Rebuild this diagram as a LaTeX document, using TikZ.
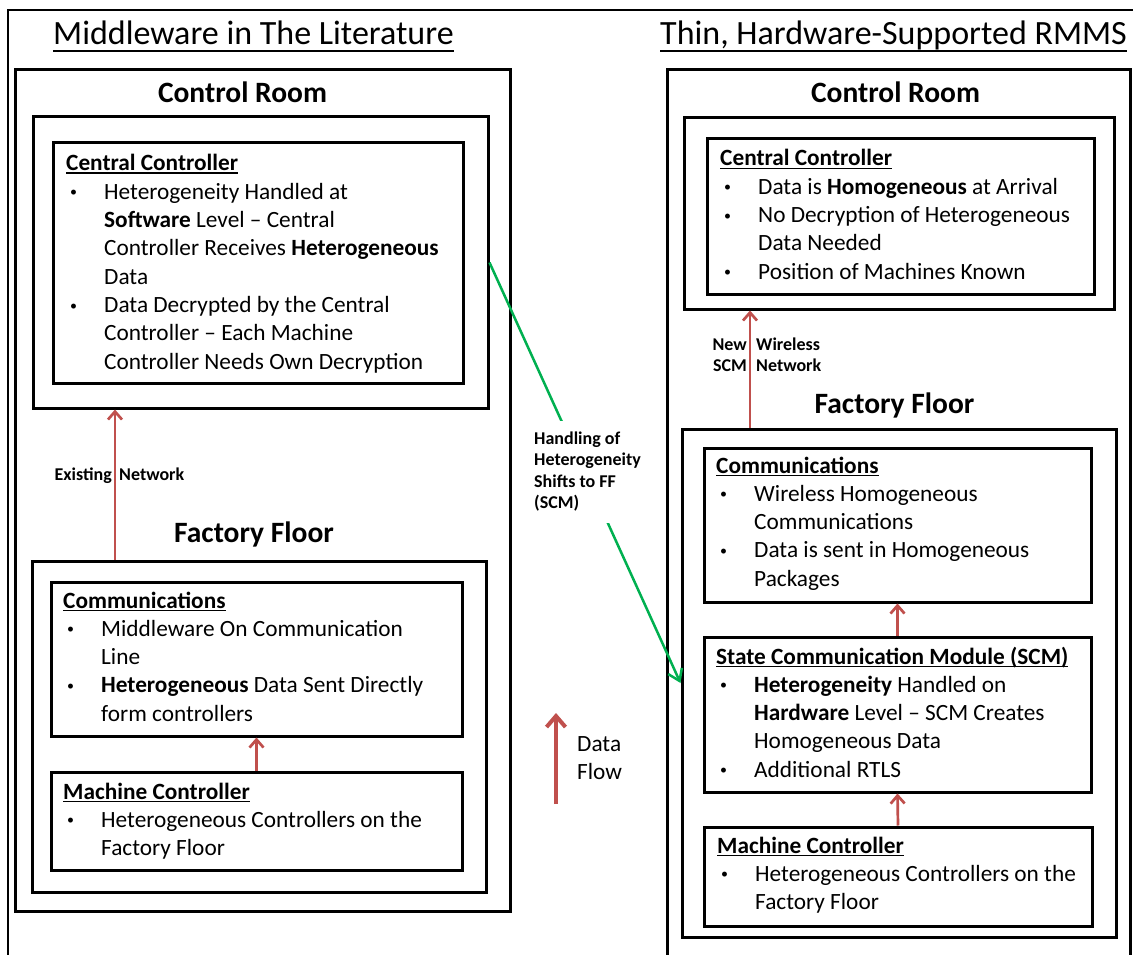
\documentclass[tikz,border=0pt]{standalone}
\usepackage{fontspec}
\setmainfont{Carlito}
\usetikzlibrary{arrows.meta, fit}
\definecolor{flowred}{RGB}{192, 80, 77}
\definecolor{shiftgreen}{RGB}{0, 176, 80}
\newlength{\bulw}\setlength{\bulw}{38pt}
\newcommand{\ulbox}[3]{\setbox0\hbox{#3}\rlap{\rule[-#1]{\wd0}{#2}}\box0}
\newcommand{\bul}{\makebox[\bulw][l]{\hspace{4pt}\raisebox{2.4pt}{\scalebox{0.6}{\textbullet}}}}
\newcommand{\cnt}{\hspace{\bulw}}
\newcommand{\bodyfont}{\fontsize{23.3}{28.3}\selectfont}

\begin{document}
\begin{tikzpicture}[x=1pt, y=-1pt,
  box/.style={draw, line width=3pt, inner sep=0pt},
  txt/.style={inner sep=0pt, anchor=base west, font=\bodyfont},
  heading/.style={inner sep=0pt, anchor=base west, font=\fontsize{34}{40}\selectfont},
  room/.style={inner sep=0pt, anchor=base, font=\fontsize{29.5}{35}\selectfont\bfseries},
  tag/.style={inner sep=0pt, font=\fontsize{18}{21.5}\selectfont\bfseries},
  flow/.style={draw=flowred, line width=2.7pt, -{Straight Barb[length=8pt, width=14pt]}},
  greenline/.style={draw=shiftgreen, line width=2.5pt, -{Straight Barb[length=11pt, width=15pt]}}]
  \useasboundingbox (0,0) rectangle (1133,955);
  \clip (0,0) rectangle (1133,955);
  \fill[white] (0,0) rectangle (1133,955);
  % Page frame
  \draw[line width=2pt] (7.5,10.5) rectangle (1140,970);
  % Titles
  \node[heading] (ltitle) at (53,45) {\ulbox{7pt}{2pt}{Middleware in The Literature}};
  \node[heading] (rtitle) at (660,45) {\ulbox{7pt}{2pt}{Thin, Hardware-Supported RMMS}};

  % Left panel - control room
  \node[box, fit={(15,70) (510,911)}] (lpanel) {};
  \node[room] (lcrname) at (242.5,103) {Control Room};
  \node[box, fit={(33,117) (488,408)}] (lcr) {};
  \node[box, fit={(53,143) (463,383)}] (lcc) {};
  \node[txt] (lcctxt) at (66,171) {\begin{tabular}[t]{@{}l@{}}
    \ulbox{3pt}{1.5pt}{\textbf{Central Controller}}\\
    \bul Heterogeneity Handled at\\
    \cnt\textbf{Software} Level – Central\\
    \cnt Controller Receives \textbf{Heterogeneous}\\
    \cnt Data\\
    \bul Data Decrypted by the Central\\
    \cnt Controller – Each Machine\\
    \cnt Controller Needs Own Decryption
  \end{tabular}};
  % Left panel - factory floor
  \node[room] (lffname) at (254,542) {Factory Floor};
  \node[box, fit={(32,561) (486,892)}] (lff) {};
  \node[box, fit={(51,582) (462,736)}] (lcom) {};
  \node[txt] (lcomtxt) at (63,608) {\begin{tabular}[t]{@{}l@{}}
    \ulbox{3pt}{1.5pt}{\textbf{Communications}}\\
    \bul Middleware On Communication\\
    \cnt Line\\
    \bul\textbf{Heterogeneous} Data Sent Directly\\
    \cnt form controllers
  \end{tabular}};
  \node[box, fit={(51,772) (462,870)}] (lmc) {};
  \node[txt] (lmctxt) at (63,799) {\begin{tabular}[t]{@{}l@{}}
    \ulbox{3pt}{1.5pt}{\textbf{Machine Controller}}\\
    \bul Heterogeneous Controllers on the\\
    \cnt Factory Floor
  \end{tabular}};
  % Left panel - data paths
  \coordinate (lnet) at (115,480);
  \draw[flow] (lff.north -| lnet) -- (lcr.south -| lnet);
  \node[tag, anchor=base east] (lnetl) at (112,480) {Existing};
  \node[tag, anchor=base west] (lnetr) at (119,480) {Network};
  \draw[flow] (lmc.north) -- (lcom.south);

  % Right panel - control room
  \node[box, fit={(667,70) (1130,990)}] (rpanel) {};
  \node[room] (rcrname) at (895.5,103) {Control Room};
  \node[box, fit={(684,118) (1114,309)}] (rcr) {};
  \node[box, fit={(707,139) (1094,294)}] (rcc) {};
  \node[txt] (rcctxt) at (720,166) {\begin{tabular}[t]{@{}l@{}}
    \ulbox{3pt}{1.5pt}{\textbf{Central Controller}}\\
    \bul Data is \textbf{Homogeneous} at Arrival\\
    \bul No Decryption of Heterogeneous\\
    \cnt Data Needed\\
    \bul Position of Machines Known
  \end{tabular}};
  % Right panel - factory floor
  \node[room] (rffname) at (894.5,413) {Factory Floor};
  \node[box, fit={(682,429) (1116,937)}] (rff) {};
  \node[box, fit={(704,448) (1091,602)}] (rcom) {};
  \node[txt] (rcomtxt) at (716,473) {\begin{tabular}[t]{@{}l@{}}
    \ulbox{3pt}{1.5pt}{\textbf{Communications}}\\
    \bul Wireless Homogeneous\\
    \cnt Communications\\
    \bul Data is sent in Homogeneous\\
    \cnt Packages
  \end{tabular}};
  \node[box, fit={(704,637) (1091,792)}] (rscm) {};
  \node[txt] (rscmtxt) at (716,664) {\begin{tabular}[t]{@{}l@{}}
    \ulbox{3pt}{1.5pt}{\textbf{State Communication Module (SCM)}}\\
    \bul\textbf{Heterogeneity} Handled on\\
    \cnt\textbf{Hardware} Level – SCM Creates\\
    \cnt Homogeneous Data\\
    \bul Additional RTLS
  \end{tabular}};
  \node[box, fit={(704,827) (1092,926)}] (rmc) {};
  \node[txt] (rmctxt) at (717,853) {\begin{tabular}[t]{@{}l@{}}
    \ulbox{3pt}{1.5pt}{\textbf{Machine Controller}}\\
    \bul Heterogeneous Controllers on the\\
    \cnt Factory Floor
  \end{tabular}};
  % Right panel - data paths
  \coordinate (rnet) at (750,350);
  \draw[flow] (rff.north -| rnet) -- (rcr.south -| rnet);
  \node[tag, anchor=base east] (rnetl) at (747,350) {\begin{tabular}[t]{@{}r@{}}New\\SCM\end{tabular}};
  \node[tag, anchor=base west] (rnetr) at (756,350) {\begin{tabular}[t]{@{}l@{}}Wireless\\Network\end{tabular}};
  \draw[flow] (rscm.north) -- (rcom.south);
  \draw[flow] (rmc.north) -- (rscm.south);

  % Shift of heterogeneity handling
  \draw[greenline] (lcr.east) -- (rff.west);
  \node[tag, fill=white, inner xsep=2pt, inner ysep=8pt] (shiftlbl) at (587.5,472)
    {\begin{tabular}[t]{@{}l@{}}Handling of\\Heterogeneity\\Shifts to FF\\(SCM)\end{tabular}};

  % Legend
  \coordinate (dfbot) at (556,804);
  \coordinate (dftop) at (556,713);
  \draw[flow, line width=4pt, -{Straight Barb[length=11pt, width=19pt]}] (dfbot) -- (dftop);
  \node[txt] (dflabel) at (577,751) {\begin{tabular}[t]{@{}l@{}}Data\\Flow\end{tabular}};
\end{tikzpicture}
\end{document}
